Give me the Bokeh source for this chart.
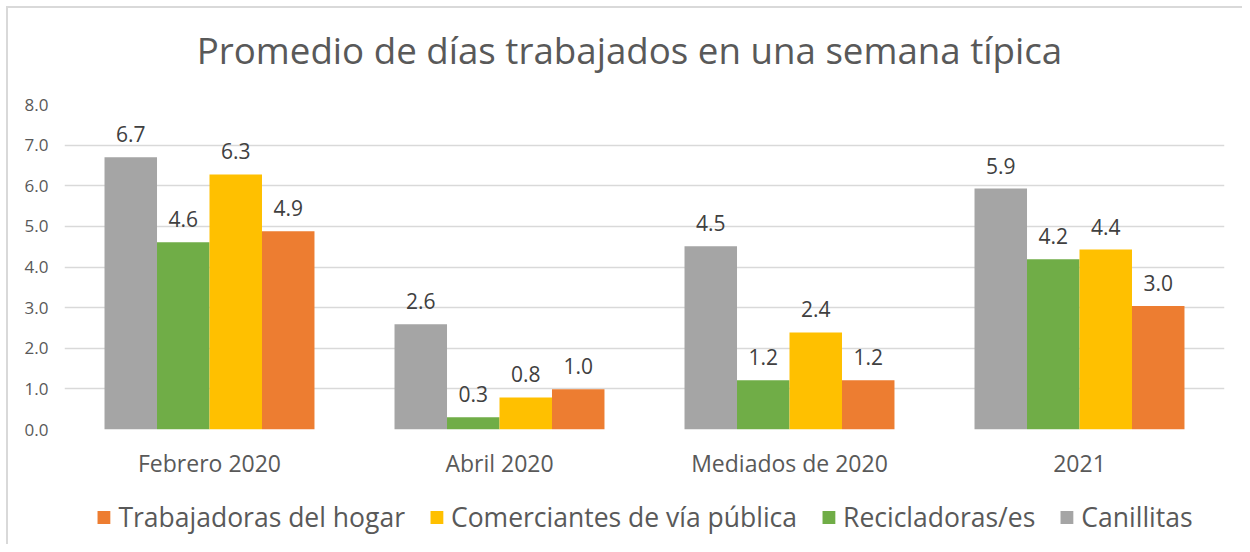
from bokeh.plotting import figure
from bokeh.layouts import column
from bokeh.models import ColumnDataSource, FactorRange, NumeralTickFormatter, Legend, LegendItem, FixedTicker, Range1d
from bokeh.transform import dodge
from bokeh.core.properties import value
from bokeh.embed import file_html
from bokeh.resources import INLINE

title_text = "Promedio de días trabajados en una semana típica"
categories = ["Febrero 2020", "Abril 2020", "Mediados de 2020", "2021"]
series_names = ["Canillitas", "Recicladoras/es", "Comerciantes de vía pública", "Trabajadoras del hogar"]
canillitas = [6.70, 2.59, 4.51, 5.93]
recicladoras = [4.61, 0.30, 1.21, 4.19]
comerciantes = [6.28, 0.79, 2.39, 4.43]
trabajadoras = [4.88, 0.99, 1.21, 3.04]
colors = ["#A5A5A5", "#70AD47", "#FFC000", "#ED7D31"]
y_ticks = [0, 1, 2, 3, 4, 5, 6, 7, 8]
legend_order = ["Trabajadoras del hogar", "Comerciantes de vía pública", "Recicladoras/es", "Canillitas"]

FONT = "Open Sans"
W = 1234
series_values = [canillitas, recicladoras, comerciantes, trabajadoras]

# title strip
TH = 80
tf = figure(width=W, height=TH, output_backend="svg", toolbar_location=None,
            x_range=Range1d(0, W), y_range=Range1d(0, TH),
            min_border_left=0, min_border_right=0, min_border_top=0, min_border_bottom=0)
tf.axis.visible = False
tf.grid.visible = False
tf.outline_line_color = None
tf.text(x=[601], y=[TH - 41], text=[title_text], text_align="center", text_baseline="middle",
        text_font=value(FONT), text_font_size="36.7px", text_color="#595959")

# main chart
p = figure(x_range=FactorRange(*categories), y_range=(0, 8),
           width=W, height=402, output_backend="svg", toolbar_location=None,
           min_border_left=56, min_border_right=13, min_border_top=16, min_border_bottom=61)
p.outline_line_color = None

bar_w = 0.181
offsets = [-1.5 * bar_w, -0.5 * bar_w, 0.5 * bar_w, 1.5 * bar_w]
for name, vals, col, off in zip(series_names, series_values, colors, offsets):
    src = ColumnDataSource(dict(cat=categories, val=vals, lab=[f"{v:.1f}" for v in vals]))
    p.vbar(x=dodge("cat", off, range=p.x_range), top="val", width=bar_w, source=src,
           fill_color=col, line_color=None)
    p.text(x=dodge("cat", off, range=p.x_range), y="val", text="lab", source=src,
           text_align="center", text_baseline="alphabetic", y_offset=-23,
           text_font=value(FONT), text_font_size="21px", text_color="#404040")

p.yaxis.ticker = FixedTicker(ticks=y_ticks)
p.yaxis.formatter = NumeralTickFormatter(format="0.0")
p.yaxis.axis_line_color = None
p.yaxis.major_tick_line_color = None
p.yaxis.minor_tick_line_color = None
p.yaxis.major_label_standoff = 10
p.yaxis.major_label_text_font = FONT
p.yaxis.major_label_text_font_size = "17px"
p.yaxis.major_label_text_color = "#595959"

p.xaxis.axis_line_color = None
p.xaxis.major_tick_line_color = None
p.xaxis.major_label_standoff = 11
p.xaxis.major_label_text_font = FONT
p.xaxis.major_label_text_font_size = "23px"
p.xaxis.major_label_text_color = "#595959"

p.xgrid.grid_line_color = None
p.ygrid.grid_line_color = "#D9D9D9"
p.ygrid.grid_line_width = 1.5

# legend strip below the chart
lf = figure(width=W, height=54, output_backend="svg", toolbar_location=None,
            x_range=Range1d(0, 1), y_range=Range1d(0, 1),
            min_border_left=0, min_border_right=18, min_border_top=0, min_border_bottom=0)
lf.axis.visible = False
lf.grid.visible = False
lf.outline_line_color = None
cmap = dict(zip(series_names, colors))
items = []
for n in legend_order:
    r = lf.vbar(x=[0.5], top=[0], bottom=[0], width=0.0, fill_color=cmap[n], line_color=None)
    items.append(LegendItem(label=n, renderers=[r]))
legend = Legend(items=items, orientation="horizontal", location="center",
                glyph_width=16, glyph_height=16, label_standoff=7, spacing=23,
                label_text_font=FONT, label_text_font_size="26.5px", label_text_color="#595959",
                border_line_color=None, background_fill_alpha=0, margin=0, padding=0)
lf.add_layout(legend, "center")

layout = column(tf, p, lf, spacing=0, margin=(6, 0, 0, 6),
                styles={"border-left": "2px solid #D9D9D9", "border-top": "2px solid #D9D9D9"})

open("out.html", "w").write(file_html(layout, INLINE))
